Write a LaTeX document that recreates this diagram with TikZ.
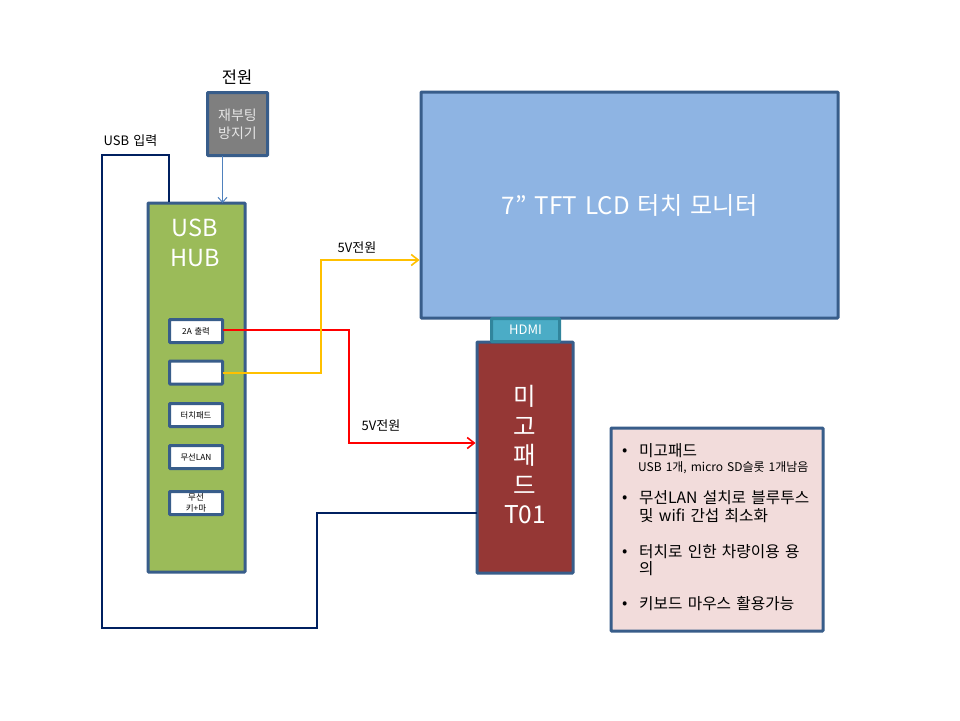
\documentclass[tikz,border=0pt]{standalone}
\usepackage{fontspec}
\setmainfont[WordSpace=1.5]{Noto Sans CJK KR}
\usetikzlibrary{arrows.meta}
\definecolor{edgeblue}{HTML}{385D8A}
\definecolor{monfill}{HTML}{8EB4E3}
\definecolor{hubfill}{HTML}{9BBB59}
\definecolor{migofill}{HTML}{953735}
\definecolor{greyfill}{HTML}{7F7F7F}
\definecolor{hdmifill}{HTML}{4BACC6}
\definecolor{hdmiedge}{HTML}{31859C}
\definecolor{infofill}{HTML}{F2DCDB}
\definecolor{wireyellow}{HTML}{FFC000}
\definecolor{wirered}{HTML}{FF0000}
\definecolor{wirenavy}{HTML}{002060}
\definecolor{wireblue}{HTML}{4F81BD}
\tikzset{
  x=1pt,y=-1pt,
  panel/.style={draw=edgeblue,line width=3pt,rounded corners=0.8pt,inner sep=0,outer sep=0,anchor=north west,align=center,text=white},
  port/.style={panel,fill=white,minimum width=53pt,minimum height=23pt,text=black,font=\fontsize{8.3}{9}\selectfont},
  wire/.style={line width=2pt,line join=miter},
  tipped/.style={-{Straight Barb[length=7pt,width=11pt,line width=1.6pt]},shorten >=1.5pt},
  lbl/.style={inner sep=0,text=black,align=center},
}
\begin{document}
\begin{tikzpicture}
\useasboundingbox (0,0) rectangle (960,720);
\fill[white] (0,0) rectangle (960,720);
% panels
\node[panel,fill=monfill,minimum width=417pt,minimum height=226pt,font=\fontsize{24.2}{28}\selectfont] (monitor) at (421,92) {7” TFT LCD 터치 모니터};
\node[panel,fill=hubfill,minimum width=97pt,minimum height=369pt] (hub) at (148,203) {};
\node[panel,fill=greyfill,minimum width=60pt,minimum height=63pt,font=\fontsize{14}{18}\selectfont,text=white!90!black] (reboot) at (207.5,92.5) {재부팅\\방지기};
\node[panel,fill=migofill,minimum width=96pt,minimum height=231pt] (migo) at (477,342) {};
\node[panel,draw=hdmiedge,fill=hdmifill,minimum width=68pt,minimum height=23pt,font=\fontsize{13}{14}\selectfont] (hdmi) at (491.5,318.5) {HDMI};
\node[panel,fill=infofill,minimum width=212pt,minimum height=203pt] (info) at (611,428) {};
% ports
\node[port] (p1) at (169.5,319.5) {2A 출력};
\node[port] (p2) at (169.5,361) {};
\node[port] (p3) at (169.5,403.5) {터치패드};
\node[port] (p4) at (169.5,445.5) {무선LAN};
\node[port,font=\fontsize{8.5}{11.5}\selectfont] (p5) at (169.5,491.5) {무선\\키+마};
% captions
\node[lbl,text=white,font=\fontsize{23.5}{29.5}\selectfont] (hubtitle) at (195,243) {USB\\HUB};
\node[lbl,text=white,font=\fontsize{24.5}{29.5}\selectfont] (migotitle) at (525,455) {미\\고\\패\\드\\T01};
% outer labels
\node[lbl,font=\fontsize{16.5}{18}\selectfont] (powerlabel) at (237,77) {전원};
\node[lbl,font=\fontsize{13}{14}\selectfont] (usblabel) at (130.5,141) {USB 입력};
\node[lbl,font=\fontsize{13}{14}\selectfont] (yellowlabel) at (357,248) {5V전원};
\node[lbl,font=\fontsize{13}{14}\selectfont] (redlabel) at (381,426) {5V전원};
% info text
\begin{scope}[every node/.style={lbl,anchor=west,align=left,font=\fontsize{15.7}{17}\selectfont}]
\node (b1) at (622,452) {•};
\node (t1) at (639,451) {미고패드};
\node[font=\fontsize{12}{13}\selectfont] (t1b) at (638,468) {USB 1개, micro SD슬롯 1개남음};
\node (b2) at (622,499) {•};
\node (t2) at (639,498) {무선LAN 설치로 블루투스};
\node (t2b) at (639,516) {및 wifi 간섭 최소화};
\node (b3) at (622,553) {•};
\node (t3) at (639,552) {터치로 인한 차량이용 용};
\node (t3b) at (639,569) {의};
\node (b4) at (622,605) {•};
\node (t4) at (639,604) {키보드 마우스 활용가능};
\end{scope}
% connector end points
\coordinate (redtarget) at (migo.west |- 0,443);
\coordinate (yellowtarget) at (monitor.west |- 0,260);
\coordinate (navyend) at (migo.west |- 0,513);
\coordinate (navystart) at (169,202);
\coordinate (rebootout) at (222.5,0 |- reboot.south);
\coordinate (hubin) at (222.5,0 |- hub.north);
% connectors
\draw[wire,wirered,tipped] (p1.east |- 0,330) -- (349,330) -- (349,443) -- (redtarget);
\draw[wire,wireyellow,tipped] (p2.east |- 0,373) -- (321,373) -- (321,260) -- (yellowtarget);
\draw[wire,wirenavy] (navystart) -- (169,155) -- (102,155) -- (102,628) -- (317,628) -- (317,513) -- (navyend);
\draw[line width=1.2pt,wireblue,-{Straight Barb[length=5pt,width=9pt,line width=1pt]}] (rebootout) -- (hubin);
\end{tikzpicture}
\end{document}
